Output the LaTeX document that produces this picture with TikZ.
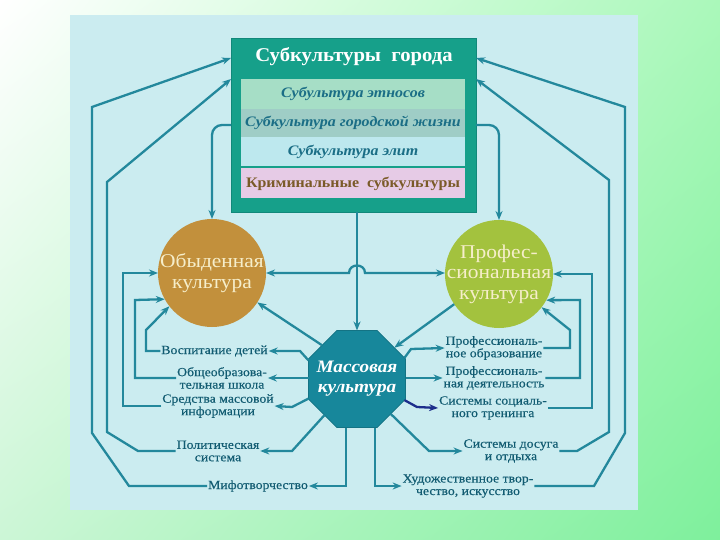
\documentclass[tikz,border=0pt]{standalone}
\usepackage{fontspec}
\setmainfont{Liberation Serif}
\newfontfamily\lblf[FakeStretch=1.1,FakeBold=0.4]{Liberation Serif}
\newfontfamily\rowf[FakeStretch=1.1]{Liberation Serif}
\newfontfamily\ttlf[FakeStretch=1.06]{Liberation Serif}
\usetikzlibrary{shapes.geometric,arrows.meta,calc,shadings}
\definecolor{connc}{HTML}{23889C}
\definecolor{navyc}{HTML}{1C2E8C}
\definecolor{lblc}{HTML}{125C72}
\definecolor{panelc}{HTML}{CBECF0}
\definecolor{boxc}{HTML}{16A08A}
\definecolor{boxd}{HTML}{11887A}
\definecolor{rowa}{HTML}{A6DEC6}
\definecolor{rowb}{HTML}{9FCDC6}
\definecolor{rowc}{HTML}{BDE8EE}
\definecolor{rowd}{HTML}{E6CBE6}
\definecolor{rowt}{HTML}{1B6E86}
\definecolor{rowbr}{HTML}{7A5A28}
\definecolor{lcc}{HTML}{C2903C}
\definecolor{pcc}{HTML}{A3C23E}
\definecolor{creamc}{HTML}{F6EECA}
\definecolor{octc}{HTML}{17879B}
\definecolor{gra}{HTML}{AAF8BA}
\definecolor{grb}{HTML}{CCF6D6}
\definecolor{grc}{HTML}{7EF09C}
\begin{document}
\begin{tikzpicture}[x=1pt,y=-1pt,
  conn/.style={draw=connc,line width=2.3pt,-{Stealth[length=9pt,width=7pt]}},
  navyconn/.style={draw=navyc,line width=2.3pt,-{Stealth[length=9pt,width=7pt]}},
  lbl/.style={font=\lblf\fontsize{12.5}{12.5}\selectfont,text=lblc,align=center,inner sep=1pt,outer sep=0pt},
  rowbox/.style={minimum width=224pt,inner sep=0pt,outer sep=0pt,font=\rowf\bfseries\itshape\fontsize{14.5}{14.5}\selectfont,text=rowt},
  circ/.style={circle,minimum size=108pt,inner sep=-20pt,outer sep=0pt,align=center,text=creamc,font=\rowf\fontsize{19.5}{20.5}\selectfont}
]
\useasboundingbox (0,0) rectangle (720,540);
\shade[upper left=white,upper right=gra,lower left=grb,lower right=grc] (0,0) rectangle (720,540);
\fill[panelc] (70,15) rectangle (638,510);

% top box
\node[fill=boxc,draw=boxd,line width=0.8pt,minimum width=245pt,minimum height=174pt,inner sep=0pt,outer sep=0pt] (box) at (353.5,125) {};
\node[font=\ttlf\bfseries\fontsize{19.5}{19.5}\selectfont,text=white,inner sep=0pt] (title) at (354,57) {Субкультуры\ \ города};
\node[rowbox,fill=rowa,minimum height=30pt] (rowA) at (353,94) {Субультура этносов};
\node[rowbox,fill=rowb,minimum height=28pt] (rowB) at (353,123) {Субкультура городской жизни};
\node[rowbox,fill=rowc,minimum height=29pt] (rowC) at (353,151.5) {Субкультура элит};
\node[rowbox,fill=rowd,minimum height=30pt,font=\rowf\bfseries\fontsize{14.5}{14.5}\selectfont,text=rowbr] (rowD) at (353,183.5) {Криминальные\ \ субкультуры};

% circles and octagon
\node[circ,fill=lcc] (l) at (212,273) {Обыденная\\культура};
\node[circ,fill=pcc] (pc) at (499,274) {Профес-\\сиональная\\культура};
\node[regular polygon,regular polygon sides=8,minimum size=105pt,inner sep=-20pt,outer sep=0pt,fill=octc,draw=octc!85!black,line width=0.6pt,text=white,align=center,font=\rowf\bfseries\itshape\fontsize{17.5}{20}\selectfont] (m) at (357,379) {Массовая\\культура};

% labels left
\node[lbl] (vosp) at (214.5,351) {Воспитание детей};
\node[lbl] (school) at (222,378) {Общеобразова-\\тельная школа};
\node[lbl] (smi) at (218,406) {Средства массовой\\информации};
\node[lbl] (pol) at (218,451) {Политическая\\система};
\node[lbl] (myth) at (258,486) {Мифотворчество};
% labels right
\node[lbl] (po) at (494,348) {Профессиональ-\\ное образование};
\node[lbl] (pd) at (494,378) {Профессиональ-\\ная деятельность};
\node[lbl] (sst) at (493,408) {Системы социаль-\\ного тренинга};
\node[lbl] (dos) at (511,451) {Системы досуга\\и отдыха};
\node[lbl] (art) at (468,486) {Художественное твор-\\чество, искусство};

% box to circles and octagon
\draw[conn,rounded corners=10pt] (box.west) -| (l.north);
\draw[conn,rounded corners=10pt] (box.east) -| (pc.north);
\draw[conn] (m.north |- box.south) -- (m.north);

% horizontal connector with hump
\coordinate (hj) at (m.north |- l.east);
\draw[conn,{Stealth[length=9pt,width=7pt]}-{Stealth[length=9pt,width=7pt]}] (l.east) -- ($(hj)+(-8,0)$) .. controls ($(hj)+(-8,-10)$) and ($(hj)+(8,-10)$) .. ($(hj)+(8,0)$) -- (pc.west |- l.east);

% octagon <-> circles
\draw[conn] (m.136) -- (l.327);
\draw[conn] (pc.214) -- (m.40);

% octagon to left labels
\coordinate (e1) at (300,351);
\draw[conn] (m.159) -- (e1) -- (vosp.east);
\draw[conn] (school.east -| m.west) -- (school.east);
\coordinate (e3) at (292,407);
\draw[conn] (m.202) -- (e3) -- (smi.east);
\coordinate (e4) at (292,451);
\draw[conn] (m.228) -- (e4) -- (pol.east);
\draw[conn] (m.257) |- (myth.east);
% octagon to right labels
\draw[conn] (m.290) |- (art.west);
\coordinate (f4) at (429,451);
\draw[conn] (m.314) -- (f4) -- (dos.west);
\coordinate (f3) at (417,407);
\draw[navyconn] (m.336) -- (f3) -- (sst.west);
\draw[conn] (pd.west -| m.east) -- (pd.west);
\coordinate (f5) at (411,349);
\draw[conn] (m.24) -- (f5) -- (po.west);

% left labels back to circle
\coordinate (v5) at (146,330);
\draw[conn] (vosp.west) -| (v5) -- (l.218);
\coordinate (v4) at (135,300);
\draw[conn] (school.west) -| (v4) -- (l.209);
\coordinate (v3) at (123,273);
\draw[conn] (smi.west) -| (v3) -- (l.west);
% right labels back to circle
\coordinate (w5) at (570,330);
\draw[conn] (po.east) -| (w5) -- (pc.322);
\coordinate (w4) at (580,300);
\draw[conn] (pd.east) -| (w4) -- (pc.331);
\coordinate (w3) at (592,274);
\draw[conn] (sst.east) -| (w3) -- (pc.east);

% outer left
\coordinate (a1) at (129,486);
\coordinate (a2) at (92,433);
\coordinate (a3) at (92,107);
\draw[conn] (myth.west) -- (a1) -- (a2) -- (a3) -- ($(box.north west)+(0,20)$);
\coordinate (b1) at (138,451);
\coordinate (b2) at (107,432);
\coordinate (b3) at (107,182);
\draw[conn] (pol.west) -- (b1) -- (b2) -- (b3) -- ($(box.north west)+(0,41)$);
% outer right
\coordinate (c1) at (594,486);
\coordinate (c2) at (625,433);
\coordinate (c3) at (625,107);
\draw[conn] (art.east) -- (c1) -- (c2) -- (c3) -- ($(box.north east)+(0,20)$);
\coordinate (d1) at (577,451);
\coordinate (d2) at (609,432);
\coordinate (d3) at (609,180);
\draw[conn] (dos.east) -- (d1) -- (d2) -- (d3) -- ($(box.north east)+(0,41)$);
\end{tikzpicture}
\end{document}
